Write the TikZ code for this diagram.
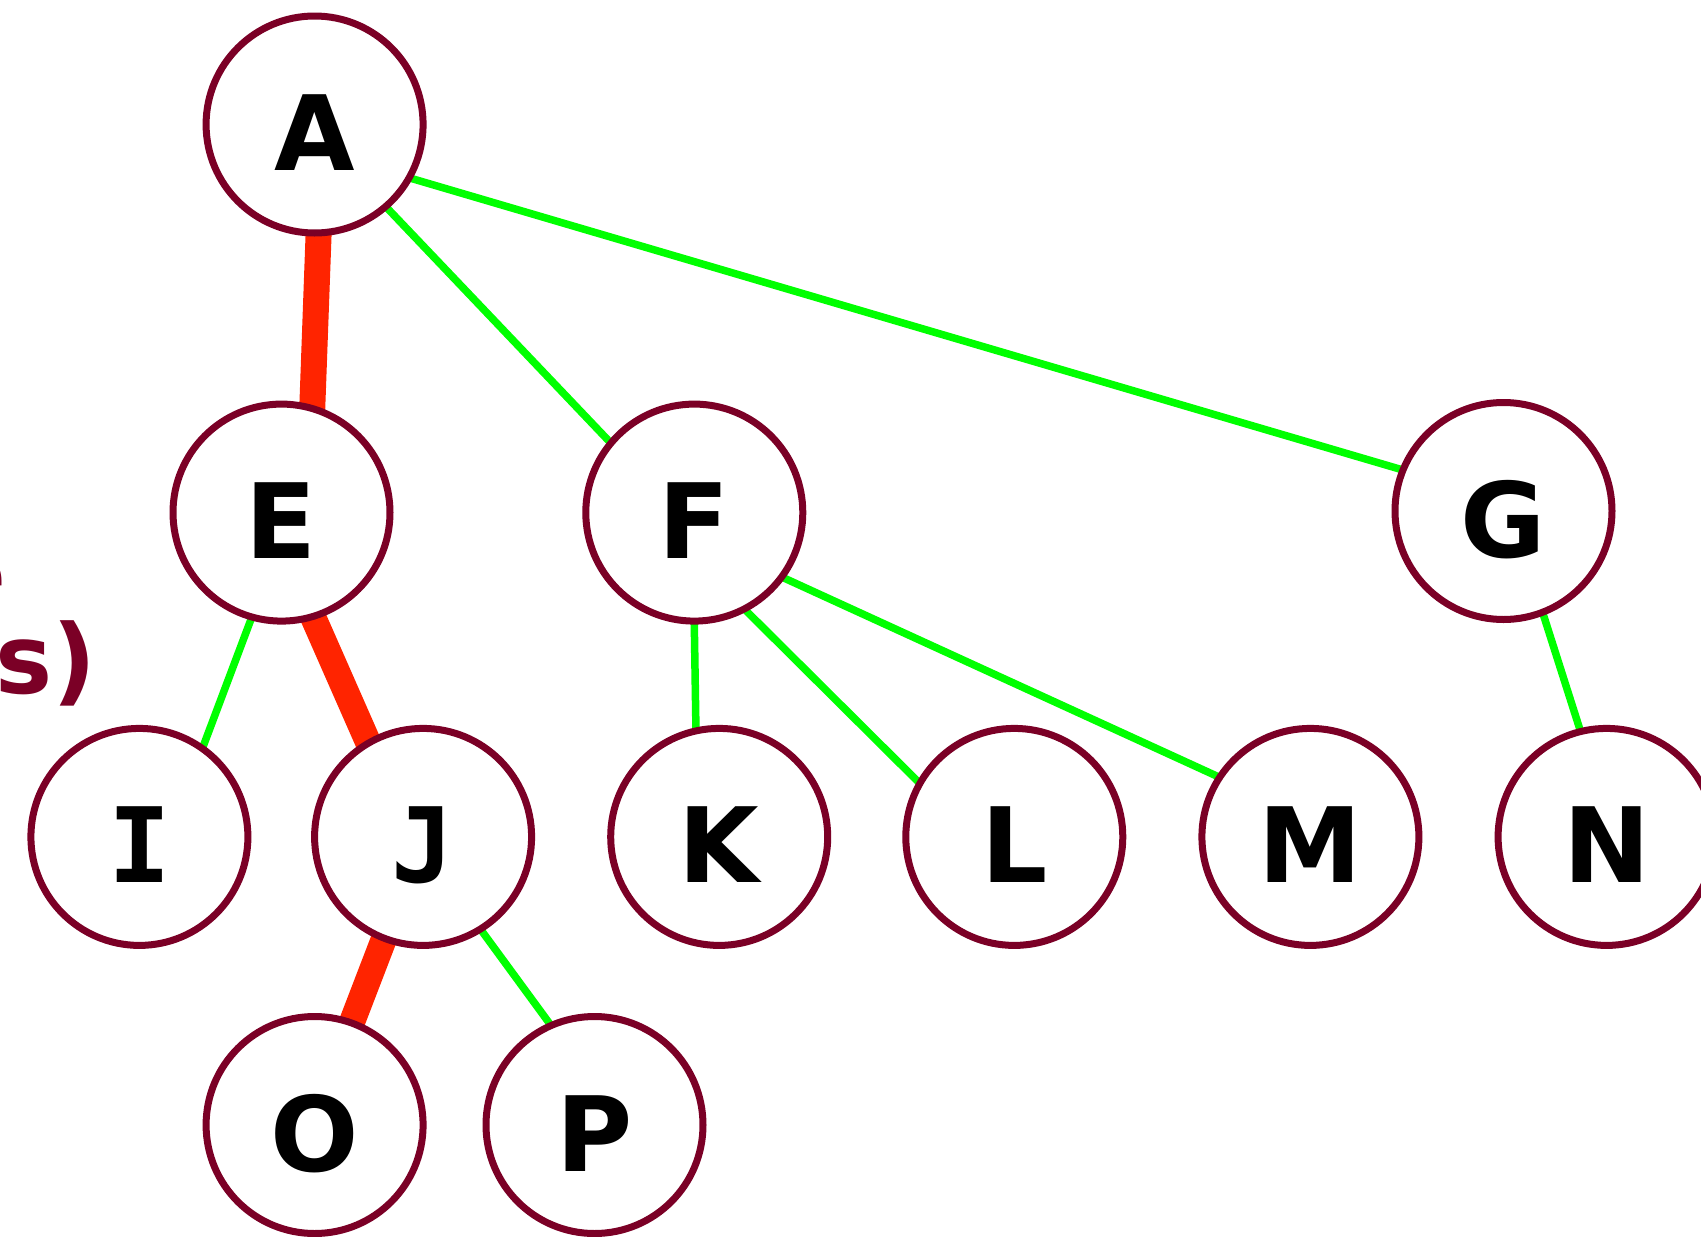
\documentclass[tikz,border=0pt]{standalone}
\usepackage{fontspec}
\setmainfont{DejaVu Sans}
\newfontfamily\monofam{DejaVu Sans Mono}
\usetikzlibrary{backgrounds}
\definecolor{nodeborder}{RGB}{123,0,38}
\definecolor{treeedge}{RGB}{255,36,0}
\definecolor{plainedge}{RGB}{0,255,0}
\tikzset{
  vertex/.style={circle, draw=nodeborder, line width=7pt, fill=white,
    minimum size=217pt, inner sep=0pt,
    font=\fontsize{104}{104}\selectfont\bfseries,
    text height=76pt, text depth=0pt},
  treeline/.style={draw=treeedge, line width=26pt, shorten <=-12pt, shorten >=-12pt},
  plainline/.style={draw=plainedge, line width=7.5pt, shorten <=-8pt, shorten >=-8pt},
  fragment/.style={text=nodeborder, inner sep=0pt, anchor=base east,
    font=\fontsize{96}{96}\selectfont\bfseries}
}
\begin{document}
\begin{tikzpicture}[x=1pt, y=-1pt]
\useasboundingbox (0,0) rectangle (1701,1237);

\node[vertex] (A) at (314.6,124.5) {\raisebox{-8pt}{A}};
\node[vertex] (E) at (281.5,512.6) {\raisebox{-8pt}{E}};
\node[vertex] (F) at (694.3,512.6) {\raisebox{-8pt}{F}};
\node[vertex] (G) at (1503.5,511) {\raisebox{-8pt}{G}};
\node[vertex] (I) at (139.4,836.9) {\raisebox{-8pt}{\monofam I}};
\node[vertex] (J) at (423.1,836.9) {\raisebox{-8pt}{\monofam J}};
\node[vertex] (K) at (719.2,836.9) {\raisebox{-8pt}{K}};
\node[vertex] (L) at (1014.3,836.9) {\raisebox{-8pt}{L}};
\node[vertex] (M) at (1310.4,836.9) {\raisebox{-8pt}{M}};
\node[vertex] (N) at (1606.6,836.9) {\raisebox{-8pt}{N}};
\node[vertex] (O) at (314.6,1125) {\raisebox{-8pt}{O}};
\node[vertex] (P) at (594.5,1125) {\raisebox{-8pt}{P}};

\node[fragment] (frag1) at (7,607) {e};
\node[fragment] (frag2) at (97,693) {s)};

\begin{scope}[on background layer]
\draw[treeline] (A.-88.5) -- (E.74);
\draw[plainline] (A.-49) -- (F.140);
\draw[plainline] (A.-29) -- (G.158);
\draw[plainline] (E.-106) -- (I.55);
\draw[treeline] (E.-73) -- (J.120);
\draw[plainline] (F.-90.5) -- (K.102.5);
\draw[plainline] (F.-62) -- (L.150);
\draw[plainline] (F.-36) -- (M.147);
\draw[plainline] (G.-69) -- (N.104);
\draw[treeline] (J.-111) -- (O.70);
\draw[plainline] (J.-58) -- (P.114);
\end{scope}
\end{tikzpicture}
\end{document}
